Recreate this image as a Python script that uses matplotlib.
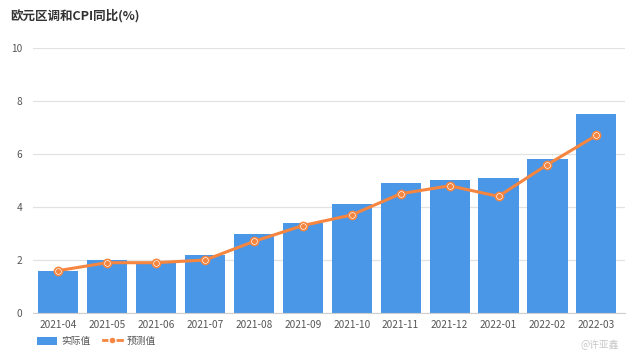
import numpy as np
import matplotlib.pyplot as plt
from matplotlib.patches import Patch
from matplotlib.lines import Line2D

plt.rcParams['font.family'] = ['Noto Sans CJK SC', 'DejaVu Sans']

months = ['2021-04', '2021-05', '2021-06', '2021-07', '2021-08', '2021-09',
          '2021-10', '2021-11', '2021-12', '2022-01', '2022-02', '2022-03']
actual = [1.6, 2.0, 1.9, 2.2, 3.0, 3.4, 4.1, 4.9, 5.0, 5.1, 5.8, 7.5]
forecast = [1.6, 1.9, 1.9, 2.0, 2.7, 3.3, 3.7, 4.5, 4.8, 4.4, 5.6, 6.7]

blue = '#4a97e8'
orange = '#f5853f'

fig = plt.figure(figsize=(6.38, 3.57), dpi=100)
ax = fig.add_axes([0.052, 0.123, 0.928, 0.743])

x = np.arange(len(months))
ax.bar(x, actual, width=0.82, color=blue, zorder=2)
ax.plot(x, forecast, color=orange, lw=2.2, zorder=3)
ax.scatter(x, forecast, s=34, facecolor='white', edgecolor=orange, linewidth=1.2, zorder=4)
ax.scatter(x, forecast, s=7, color=orange, zorder=5)

ax.set_xlim(-0.51, len(months) - 0.41)
ax.set_ylim(0, 10)
ax.set_yticks([0, 2, 4, 6, 8, 10])
ax.set_xticks(x)
ax.set_xticklabels(months)
ax.grid(axis='y', color='#e2e2e2', lw=0.9, zorder=0)
for s in ['top', 'right', 'left']:
    ax.spines[s].set_visible(False)
ax.spines['bottom'].set_color('#cfcfcf')
ax.tick_params(axis='both', length=0, labelsize=7.3, labelcolor='#555555')
ax.tick_params(axis='x', pad=5)
ax.tick_params(axis='y', pad=8)

fig.text(0.016, 0.955, '欧元区调和CPI同比(%)', fontsize=9, fontweight='bold',
         color='#333333', va='center', ha='left')

handles = [Patch(facecolor=blue, edgecolor='none'),
           Line2D([0], [0], color=orange, lw=2, marker='o', markersize=5,
                  markerfacecolor=orange, markeredgecolor='white')]
fig.legend(handles, ['实际值', '预测值'], loc='center left', bbox_to_anchor=(0.045, 0.045),
           ncol=2, frameon=False, fontsize=7, handlelength=2.0, handleheight=0.9,
           columnspacing=1.2, handletextpad=0.5, labelcolor='#555555')

fig.text(0.97, 0.035, '@许亚鑫', fontsize=7, color='#c8c8c8', ha='right', va='center')

fig.savefig('out.png', dpi=100)
